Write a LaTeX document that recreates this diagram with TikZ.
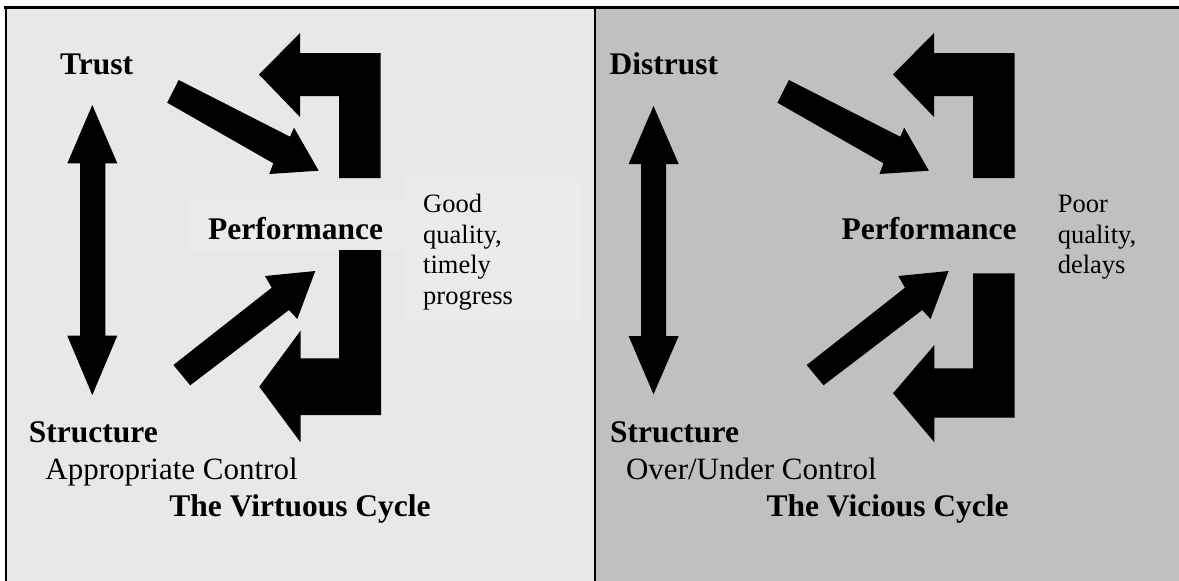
\documentclass[tikz,border=0pt]{standalone}
\usepackage{fontspec}
\setmainfont{Liberation Serif}
\definecolor{leftbg}{RGB}{232,232,232}
\definecolor{rightbg}{RGB}{192,192,192}
\definecolor{hibox}{RGB}{235,235,235}
\begin{document}
\begin{tikzpicture}[x=1pt,y=-1pt,
  blk/.style={fill=black,draw=none},
  bigb/.style={inner sep=0pt,anchor=base west,font=\fontsize{31.5}{31.5}\selectfont\bfseries},
  midr/.style={inner sep=0pt,anchor=base west,font=\fontsize{31}{31}\selectfont},
  smr/.style={inner sep=0pt,anchor=base west,font=\fontsize{26.5}{31}\selectfont},
  frame/.style={draw=black,line cap=rect}]
\useasboundingbox (0,0) rectangle (1179,581);
% backgrounds
\fill[leftbg] (5,7) rectangle (595,581);
\fill[rightbg] (595,7) rectangle (1179,581);
\fill[hibox] (187.5,200) rectangle (403.7,250);
\fill[hibox] (403.7,177) rectangle (581.7,320);
% frame
\draw[frame,line width=3pt] (5,7.5) -- (1179,7.5);
\draw[frame,line width=2pt] (5.8,7.5) -- (5.8,581);
\draw[frame,line width=2pt] (595,7.5) -- (595,581);

% ---------- left panel ----------
% double arrow
\fill[blk] (92.3,105) -- (117.3,163.3) -- (105.3,163.3) -- (105.3,335.7) -- (117.3,335.7)
  -- (92.3,395) -- (67.3,335.7) -- (80,335.7) -- (80,163.3) -- (67.3,163.3) -- cycle;
% trust -> performance
\fill[blk] (178.7,80) -- (290,136.7) -- (294,127.7) -- (318.7,170.7) -- (269.3,174)
  -- (273.3,163.3) -- (167.2,102.7) -- cycle;
% structure -> performance
\fill[blk] (173.4,365) -- (271.7,287.7) -- (265,276) -- (315.3,271) -- (297.3,319)
  -- (289,310) -- (190.2,385.3) -- cycle;
% top L arrow
\fill[blk] (259,74.5) -- (300,33) -- (300,53) -- (380.5,53) -- (380.5,178) -- (339,178)
  -- (339,96) -- (300,96) -- (300,117) -- cycle;
% bottom L arrow
\fill[blk] (259.3,386.7) -- (300.5,330.7) -- (300.5,358.3) -- (339,358.3) -- (339,250)
  -- (381,250) -- (381,415) -- (300.5,415) -- (300.5,442.3) -- cycle;
% texts
\node[bigb] (trust) at (60,74) {Trust};
\node[bigb] (perfL) at (208,239) {Performance};
\node[smr] (g1) at (423,212) {Good};
\node[smr] (g2) at (423,243) {quality,};
\node[smr] (g3) at (423,273.5) {timely};
\node[smr] (g4) at (423,304.5) {progress};
\node[bigb] (structL) at (28.7,442.7) {Structure};
\node[midr] (ctrlL) at (45.2,479) {Appropriate Control};
\node[bigb] (titleL) at (169.2,516) {The Virtuous Cycle};

% ---------- right panel ----------
\fill[blk] (653.5,106) -- (678.7,164) -- (666.1,164) -- (666.1,336) -- (678.7,336)
  -- (653.5,394.3) -- (628.6,336) -- (641.2,336) -- (641.2,164) -- (628.6,164) -- cycle;
\begin{scope}[xshift=610.2pt]
\fill[blk] (178.7,80) -- (290,136.7) -- (294,127.7) -- (318.7,170.7) -- (269.3,174)
  -- (273.3,163.3) -- (167.2,102.7) -- cycle;
\end{scope}
\begin{scope}[xshift=633.3pt]
\fill[blk] (173.4,365) -- (271.7,287.7) -- (265,276) -- (315.3,271) -- (297.3,319)
  -- (289,310) -- (190.2,385.3) -- cycle;
\end{scope}
\begin{scope}[xshift=634pt]
\fill[blk] (259,74.5) -- (300,33) -- (300,53) -- (380.5,53) -- (380.5,178) -- (339,178)
  -- (339,96) -- (300,96) -- (300,117) -- cycle;
\end{scope}
\fill[blk] (893,393.3) -- (934.4,345) -- (934.4,368.3) -- (973,368.3) -- (973,273.3)
  -- (1014.7,273.3) -- (1014.7,417.7) -- (934.4,417.7) -- (934.4,442.3) -- cycle;
\node[bigb] (distrust) at (609.5,74) {Distrust};
\node[bigb] (perfR) at (841.4,239) {Performance};
\node[smr] (p1) at (1057.6,212) {Poor};
\node[smr] (p2) at (1057.6,243) {quality,};
\node[smr] (p3) at (1057.6,273.5) {delays};
\node[bigb] (structR) at (609.9,442.7) {Structure};
\node[midr] (ctrlR) at (625.9,479) {Over/Under Control};
\node[bigb] (titleR) at (766.4,516) {The Vicious Cycle};
\end{tikzpicture}
\end{document}
